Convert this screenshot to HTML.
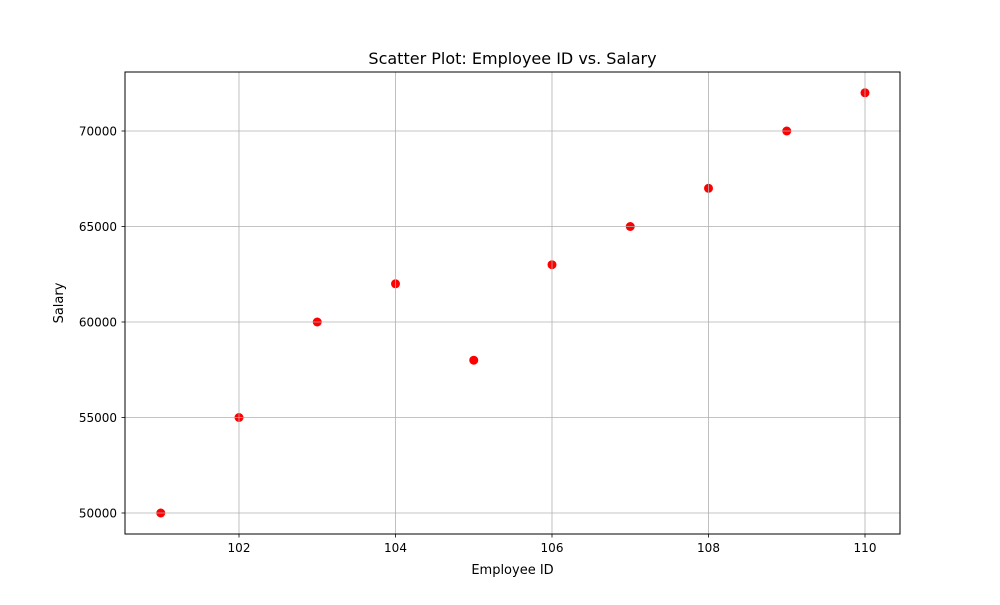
<!DOCTYPE html>
<html><head><meta charset="utf-8"><style>
body{margin:0;background:#fff;}
svg text{font-family:"DejaVu Sans","Liberation Sans",sans-serif;}
</style></head><body>
<svg id="chart" width="1000" height="600" xmlns="http://www.w3.org/2000/svg">
<rect width="1000" height="600" fill="#fff"/>
<g id="points"></g>
<g id="grid"></g>
<g id="ticks"></g>
<rect x="125" y="72" width="775" height="462" fill="none" stroke="#000" stroke-width="1"/>
<text x="512.5" y="64" text-anchor="middle" font-size="16">Scatter Plot: Employee ID vs. Salary</text>
<text x="512.5" y="574" text-anchor="middle" font-size="13">Employee ID</text>
<text x="63" y="303" text-anchor="middle" font-size="13" transform="rotate(-90 63 303)">Salary</text>
</svg>
<script>
const ids=[101,102,103,104,105,106,107,108,109,110];
const salaries=[50000,55000,60000,62000,58000,63000,65000,67000,70000,72000];
const xTicks=[102,104,106,108,110];
const yTicks=[50000,55000,60000,65000,70000];
const NS="http://www.w3.org/2000/svg";
function sx(v){return 239+(v-102)*78.25;}
function sy(v){return 513-(v-50000)*(95.5/5000);}
function mk(tag,attrs,parent){const e=document.createElementNS(NS,tag);for(const k in attrs)e.setAttribute(k,attrs[k]);document.getElementById(parent).appendChild(e);return e;}
xTicks.forEach(t=>{
 const g=mk('line',{x1:sx(t),x2:sx(t),y1:72,y2:534,stroke:'#b0b0b0','stroke-width':0.8},'grid');
 
 
 mk('line',{x1:sx(t),x2:sx(t),y1:534,y2:537.5,stroke:'#000','stroke-width':0.8},'ticks');
 const l=mk('text',{x:sx(t),y:552,'text-anchor':'middle','font-size':12},'ticks');l.textContent=t;
 
 
});
yTicks.forEach(t=>{
 const g=mk('line',{x1:125,x2:900,y1:sy(t),y2:sy(t),stroke:'#b0b0b0','stroke-width':0.8},'grid');
 
 
 mk('line',{x1:121.5,x2:125,y1:sy(t),y2:sy(t),stroke:'#000','stroke-width':0.8},'ticks');
 const l=mk('text',{x:117,y:sy(t)+4.5,'text-anchor':'end','font-size':12},'ticks');l.textContent=t;
 
 
});
ids.forEach((id,i)=>{
 const c=mk('circle',{cx:sx(id),cy:sy(salaries[i]),r:4.5,fill:'#ff0000'},'points');
 
 
});
</script>
</body></html>
